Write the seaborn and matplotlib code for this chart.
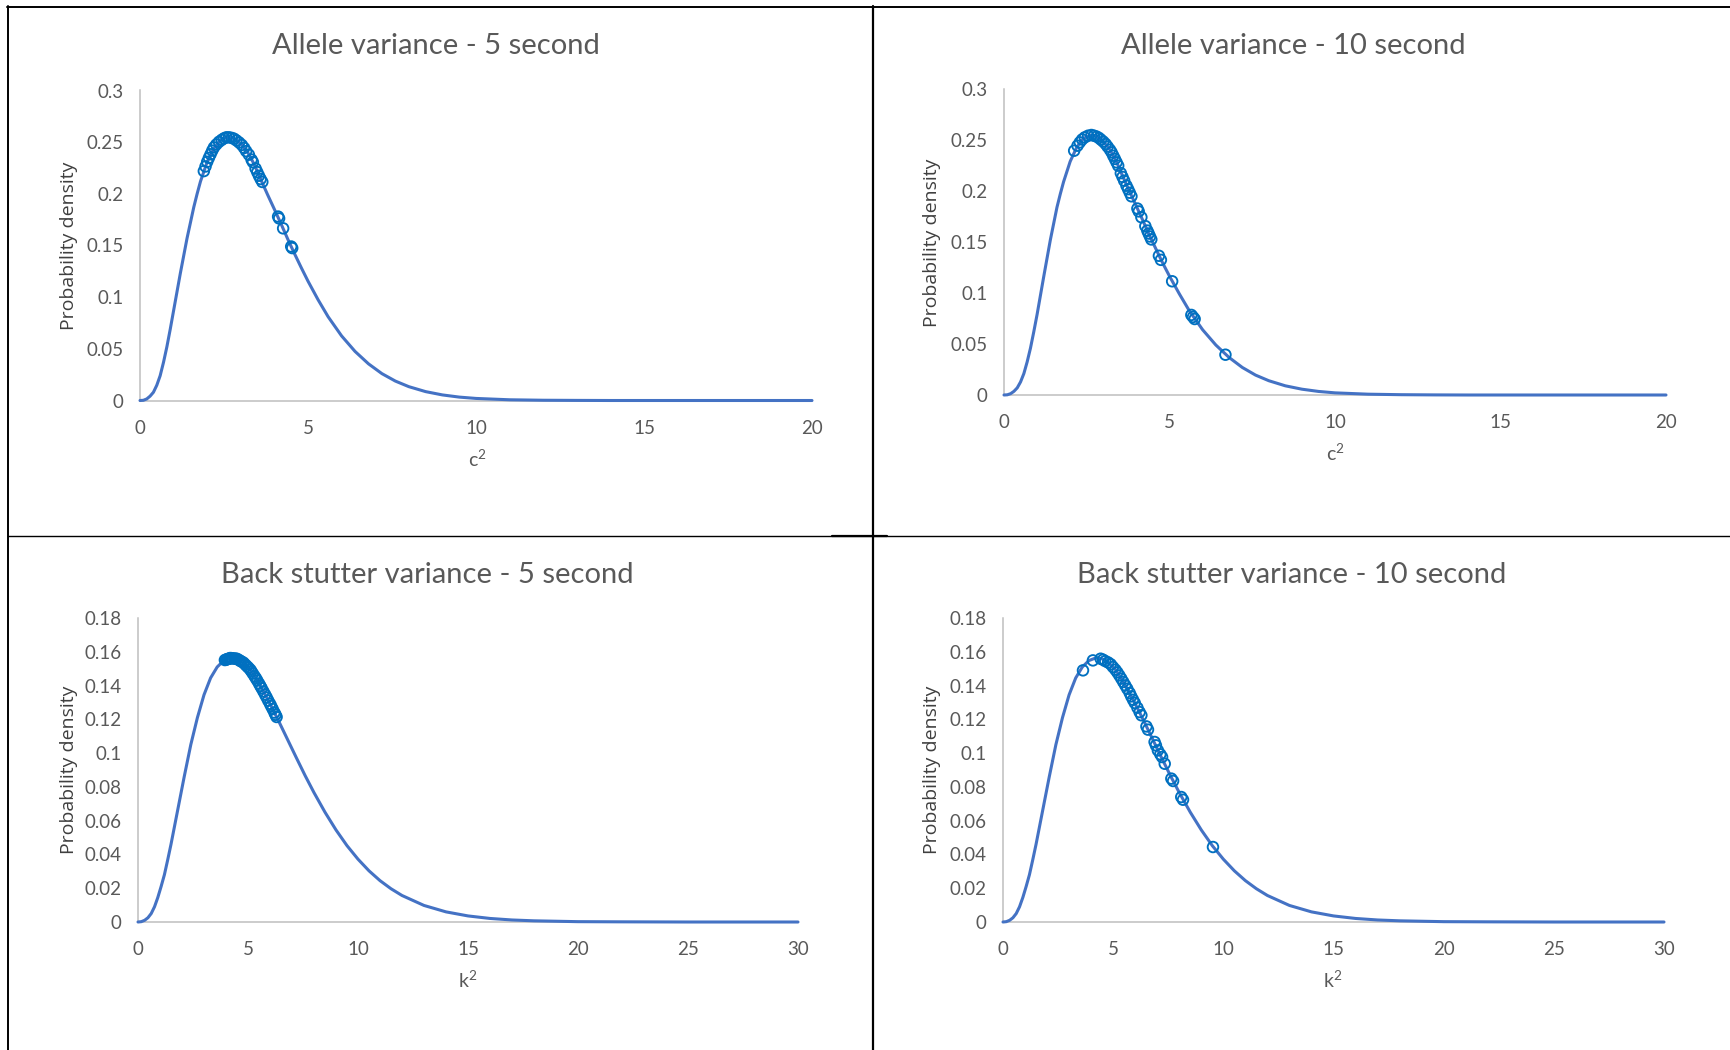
import matplotlib
matplotlib.use("Agg")
import matplotlib.pyplot as plt
from matplotlib.lines import Line2D
import seaborn as sns

# ---------------- data ----------------
# Allele variance - 5 second : fitted density curve and observed points
a5_curve_x = [0, 0.1, 0.2, 0.3, 0.4, 0.5, 0.6, 0.7, 0.8, 0.9, 1.0, 1.1, 1.2, 1.3, 1.4, 1.5,
              1.6, 1.7, 1.8, 2.0, 2.2, 2.4, 2.6, 2.8, 3.0, 3.2, 3.4, 3.6, 3.8, 4.0, 4.2, 4.4,
              4.6, 4.8, 5.0, 5.3, 5.6, 6.0, 6.4, 6.8, 7.2, 7.6, 8.0, 8.5, 9.0, 9.5, 10, 11,
              12, 13, 14, 17, 20]
a5_curve_y = [0, 0.0002, 0.0015, 0.0042, 0.008, 0.0148, 0.024, 0.037, 0.052, 0.069, 0.087,
              0.105, 0.123, 0.140, 0.157, 0.172, 0.187, 0.200, 0.212, 0.231, 0.244, 0.252,
              0.255, 0.2535, 0.2485, 0.2405, 0.2285, 0.2135, 0.199, 0.185, 0.1708, 0.156,
              0.142, 0.1285, 0.1155, 0.0975, 0.081, 0.0625, 0.0475, 0.0355, 0.026, 0.0188,
              0.0134, 0.0086, 0.0054, 0.0033, 0.002, 0.0007, 0.00025, 0.0001, 0, 0, 0]
a5_pts_x = [1.90, 1.95, 2.00, 2.05, 2.10, 2.15, 2.20, 2.27, 2.35, 2.43, 2.50, 2.57, 2.65,
            2.73, 2.80, 2.87, 2.95, 3.03, 3.10, 3.16, 3.24, 3.32, 3.36, 3.44, 3.49, 3.54,
            3.59, 3.64, 4.11, 4.14, 4.26, 4.50, 4.53]
a5_pts_y = [0.222, 0.2265, 0.231, 0.2348, 0.2383, 0.2418, 0.2449, 0.2477, 0.2503, 0.2522,
            0.2537, 0.2547, 0.2547, 0.2541, 0.2533, 0.2517, 0.2497, 0.2473, 0.2444, 0.2413,
            0.2379, 0.2331, 0.2307, 0.2245, 0.221, 0.2175, 0.2143, 0.2115, 0.178, 0.1762,
            0.1666, 0.149, 0.1475]

# Allele variance - 10 second
a10_curve_x = [0, 0.1, 0.2, 0.3, 0.4, 0.5, 0.6, 0.7, 0.8, 0.9, 1.0, 1.1, 1.2, 1.3, 1.4, 1.5,
               1.6, 1.7, 1.8, 2.0, 2.2, 2.4, 2.6, 2.8, 3.0, 3.2, 3.4, 3.6, 3.8, 4.0, 4.2, 4.4,
               4.6, 4.8, 5.0, 5.3, 5.6, 6.0, 6.4, 6.8, 7.2, 7.6, 8.0, 8.5, 9.0, 9.5, 10, 11,
               12, 13, 14, 17, 20]
a10_curve_y = [0, 0.0002, 0.0013, 0.0036, 0.007, 0.0128, 0.021, 0.0325, 0.046, 0.062, 0.079,
               0.0975, 0.116, 0.134, 0.152, 0.168, 0.184, 0.197, 0.209, 0.229, 0.243, 0.2515,
               0.2548, 0.2535, 0.2485, 0.2405, 0.2285, 0.2135, 0.199, 0.185, 0.1708, 0.156,
               0.1425, 0.129, 0.1165, 0.099, 0.0825, 0.064, 0.049, 0.0368, 0.027, 0.0195,
               0.014, 0.009, 0.0057, 0.0035, 0.0021, 0.0008, 0.0003, 0.0001, 0, 0, 0]
a10_pts_x = [2.12, 2.22, 2.29, 2.36, 2.44, 2.54, 2.64, 2.72, 2.80, 2.87, 2.93, 3.00, 3.07,
             3.13, 3.20, 3.25, 3.30, 3.35, 3.40, 3.45, 3.53, 3.58, 3.63, 3.70, 3.75, 3.80,
             3.85, 4.03, 4.07, 4.15, 4.27, 4.33, 4.37, 4.41, 4.45, 4.68, 4.74, 5.08, 5.66,
             5.71, 5.76, 6.69]
a10_pts_y = [0.2395, 0.2444, 0.2477, 0.2505, 0.2526, 0.2542, 0.2549, 0.2542, 0.2533, 0.252,
             0.2503, 0.2484, 0.2461, 0.2435, 0.2405, 0.2379, 0.2346, 0.2314, 0.2281, 0.2248,
             0.2175, 0.2138, 0.2101, 0.2052, 0.2018, 0.1983, 0.1948, 0.1828, 0.18, 0.1743,
             0.1656, 0.1612, 0.1583, 0.1554, 0.1525, 0.1365, 0.1325, 0.1115, 0.0785, 0.0765,
             0.0745, 0.0395]

# Back stutter variance - 5 second
b5_curve_x = [0, 0.15, 0.3, 0.45, 0.6, 0.75, 0.9, 1.05, 1.2, 1.35, 1.5, 1.8, 2.1, 2.4, 2.7,
              3.0, 3.3, 3.6, 3.9, 4.2, 4.5, 4.8, 5.1, 5.4, 5.7, 6.0, 6.4, 6.8, 7.2, 7.6, 8.0,
              8.5, 9.0, 9.5, 10, 10.5, 11, 11.5, 12, 13, 14, 15, 16, 17, 18, 20, 22, 25, 30]
b5_curve_y = [0, 0.0002, 0.001, 0.0025, 0.005, 0.009, 0.0145, 0.021, 0.028, 0.0368, 0.046,
              0.066, 0.086, 0.105, 0.121, 0.1345, 0.1445, 0.151, 0.1548, 0.1563, 0.1558,
              0.1535, 0.1495, 0.1435, 0.1365, 0.1292, 0.1188, 0.108, 0.0972, 0.0866, 0.0766,
              0.065, 0.0545, 0.0452, 0.0372, 0.0303, 0.0245, 0.0197, 0.0157, 0.0098, 0.006,
              0.0036, 0.0021, 0.0012, 0.0007, 0.0002, 0.0001, 0, 0]
b5_pts_x = [3.95, 4.00, 4.05, 4.10, 4.15, 4.20, 4.25, 4.30, 4.38, 4.45, 4.50, 4.58, 4.65,
            4.72, 4.80, 4.88, 4.95, 5.02, 5.10, 5.15, 5.22, 5.30, 5.36, 5.42, 5.50, 5.56,
            5.62, 5.70, 5.78, 5.85, 5.92, 6.00, 6.05, 6.12, 6.20, 6.25, 6.30]
b5_pts_y = [0.1551, 0.1553, 0.1556, 0.1558, 0.156, 0.1563, 0.1562, 0.1561, 0.156, 0.1559,
            0.1558, 0.1552, 0.1546, 0.1541, 0.1535, 0.1524, 0.1515, 0.1506, 0.1495, 0.1485,
            0.1471, 0.1455, 0.1443, 0.143, 0.1412, 0.1398, 0.1384, 0.1365, 0.1346, 0.1329,
            0.1311, 0.1292, 0.1279, 0.1261, 0.124, 0.1227, 0.1214]

# Back stutter variance - 10 second
b10_curve_x = [0, 0.15, 0.3, 0.45, 0.6, 0.75, 0.9, 1.05, 1.2, 1.35, 1.5, 1.8, 2.1, 2.4, 2.7,
               3.0, 3.3, 3.6, 3.9, 4.2, 4.5, 4.8, 5.1, 5.4, 5.7, 6.0, 6.4, 6.8, 7.2, 7.6, 8.0,
               8.5, 9.0, 9.5, 10, 10.5, 11, 11.5, 12, 13, 14, 15, 16, 17, 18, 20, 22, 25, 30]
b10_curve_y = [0, 0.0002, 0.001, 0.0025, 0.005, 0.009, 0.0145, 0.021, 0.028, 0.0368, 0.046,
               0.066, 0.086, 0.105, 0.121, 0.1345, 0.1445, 0.151, 0.1548, 0.1563, 0.1558,
               0.1535, 0.1495, 0.1435, 0.1365, 0.1292, 0.1188, 0.108, 0.0972, 0.0866, 0.0766,
               0.065, 0.0545, 0.0452, 0.0372, 0.0303, 0.0245, 0.0197, 0.0157, 0.0098, 0.006,
               0.0036, 0.0021, 0.0012, 0.0007, 0.0002, 0.0001, 0, 0]
b10_pts_x = [3.63, 4.08, 4.43, 4.54, 4.64, 4.77, 4.89, 4.99, 5.10, 5.19, 5.28, 5.37, 5.46,
             5.55, 5.64, 5.75, 5.82, 5.90, 5.98, 6.10, 6.20, 6.28, 6.51, 6.58, 6.88, 6.94,
             7.03, 7.14, 7.22, 7.34, 7.64, 7.72, 8.09, 8.17, 9.53]
b10_pts_y = [0.149, 0.1549, 0.1559, 0.1553, 0.1545, 0.1537, 0.1526, 0.151, 0.1494, 0.1478,
             0.146, 0.1441, 0.1421, 0.1401, 0.1381, 0.1356, 0.1336, 0.1316, 0.1297, 0.1269,
             0.1243, 0.1224, 0.1158, 0.1139, 0.1066, 0.1046, 0.1016, 0.0993, 0.0977, 0.0937,
             0.0849, 0.0835, 0.074, 0.0724, 0.0444]

titles = ["Allele variance - 5 second", "Allele variance - 10 second",
          "Back stutter variance - 5 second", "Back stutter variance - 10 second"]
x_labels = [r"$\mathregular{c^{2}}$", r"$\mathregular{c^{2}}$",
            r"$\mathregular{k^{2}}$", r"$\mathregular{k^{2}}$"]
y_label = "Probability density"

allele_xticks = [0, 5, 10, 15, 20]
allele_yticks = [0, 0.05, 0.1, 0.15, 0.2, 0.25, 0.3]
allele_ytick_labels = ["0", "0.05", "0.1", "0.15", "0.2", "0.25", "0.3"]
stutter_xticks = [0, 5, 10, 15, 20, 25, 30]
stutter_yticks = [0, 0.02, 0.04, 0.06, 0.08, 0.1, 0.12, 0.14, 0.16, 0.18]
stutter_ytick_labels = ["0", "0.02", "0.04", "0.06", "0.08", "0.1", "0.12", "0.14", "0.16", "0.18"]

# ---------------- style / layout ----------------
W, H = 1730, 1050
sns.set_theme(style="white")
plt.rcParams['font.family'] = ['Lato', 'DejaVu Sans']
plt.rcParams['mathtext.fontset'] = 'custom'
plt.rcParams['mathtext.rm'] = 'Lato'
plt.rcParams['mathtext.it'] = 'Lato'

LINE_C = "#4472C4"
MARK_C = "#0070C0"
TEXT_C = "#595959"
AXIS_C = "#BFBFBF"

fig = plt.figure(figsize=(W / 100, H / 100), dpi=100)
fig.patch.set_facecolor("white")

# (left, right, y0 pixel, ytop pixel), title centre, y-label centre, x-label centre
layout = [
    dict(rect=(140, 812, 400.5, 90.5), title=(436, 46), ylab=(69, 246), xlab=(477, 459)),
    dict(rect=(1004, 1666, 395, 89), title=(1293, 46), ylab=(932, 243), xlab=(1335, 453)),
    dict(rect=(138, 798, 922, 618), title=(427, 575), ylab=(69, 770), xlab=(468, 980)),
    dict(rect=(1003, 1664, 922, 618), title=(1292, 575), ylab=(932, 770), xlab=(1333, 980)),
]

series = [
    (a5_curve_x, a5_curve_y, a5_pts_x, a5_pts_y, allele_xticks, allele_yticks, allele_ytick_labels),
    (a10_curve_x, a10_curve_y, a10_pts_x, a10_pts_y, allele_xticks, allele_yticks, allele_ytick_labels),
    (b5_curve_x, b5_curve_y, b5_pts_x, b5_pts_y, stutter_xticks, stutter_yticks, stutter_ytick_labels),
    (b10_curve_x, b10_curve_y, b10_pts_x, b10_pts_y, stutter_xticks, stutter_yticks, stutter_ytick_labels),
]

for i, (lay, ser) in enumerate(zip(layout, series)):
    cx, cy, px, py, xt, yt, ytl = ser
    l, r, b, t = lay["rect"]
    ax = fig.add_axes([l / W, 1 - b / H, (r - l) / W, (b - t) / H])
    ax.set_facecolor("white")
    sns.lineplot(x=cx, y=cy, ax=ax, color=LINE_C, linewidth=2.2, clip_on=False, zorder=3)
    sns.scatterplot(x=px, y=py, ax=ax, marker="o", s=58, color=MARK_C,
                    facecolor="none", edgecolor=MARK_C, linewidth=1.35, zorder=4, clip_on=False)
    ax.set_xlim(xt[0], xt[-1])
    ax.set_ylim(yt[0], yt[-1])
    ax.set_xticks(xt, labels=[str(v) for v in xt])
    ax.set_yticks(yt, labels=ytl)
    ax.tick_params(axis="both", length=0, labelsize=13.5, labelcolor=TEXT_C)
    ax.tick_params(axis="x", pad=14)
    ax.tick_params(axis="y", pad=12)
    ax.grid(False)
    for s in ["top", "right"]:
        ax.spines[s].set_visible(False)
    for s in ["left", "bottom"]:
        ax.spines[s].set_color(AXIS_C)
        ax.spines[s].set_linewidth(1.1)
    ax.set_xlabel("")
    ax.set_ylabel("")

    tx, ty = lay["title"]
    fig.text(tx / W, 1 - ty / H, titles[i], ha="center", va="center",
             fontsize=21, color=TEXT_C)
    yx, yy = lay["ylab"]
    fig.text(yx / W, 1 - yy / H, y_label, ha="center", va="center", rotation=90,
             fontsize=14, color="#3f3f3f", family=["Open Sans", "DejaVu Sans"])
    xx, xy = lay["xlab"]
    fig.text(xx / W, 1 - xy / H, x_labels[i], ha="center", va="center",
             fontsize=14, color=TEXT_C)

# panel frame lines
def hline(y, x0, x1, lw):
    fig.add_artist(Line2D([x0 / W, x1 / W], [1 - y / H, 1 - y / H], color="black",
                          linewidth=lw, transform=fig.transFigure))

def vline(x, y0, y1, lw):
    fig.add_artist(Line2D([x / W, x / W], [1 - y0 / H, 1 - y1 / H], color="black",
                          linewidth=lw, transform=fig.transFigure))

hline(6.5, 7, W, 1.4)
vline(8, 6, H, 1.4)
vline(873, 6, H, 1.6)
hline(535.5, 8, W, 1.0)
hline(535.5, 832, 887, 1.6)

fig.savefig("out.png", dpi=100, facecolor="white")
